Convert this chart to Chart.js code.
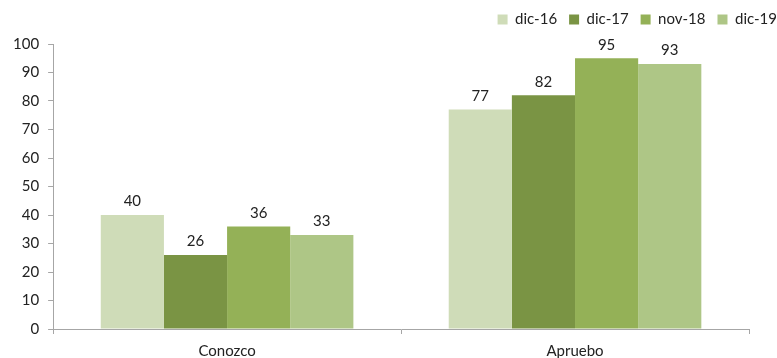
<!DOCTYPE html>
<html>
<head>
<meta charset="utf-8">
<script src="https://cdn.jsdelivr.net/npm/chart.js@4"></script>
<style>
  html, body { margin: 0; padding: 0; background: #fff; }
  #wrap { width: 777px; height: 358px; }
</style>
</head>
<body>
<div id="wrap"><canvas id="grafico" width="777" height="358"></canvas></div>
<script>
// datos
var categorias = ['Conozco', 'Apruebo'];
var series = ['dic-16', 'dic-17', 'nov-18', 'dic-19'];
var valoresDic16 = [40, 77];
var valoresDic17 = [26, 82];
var valoresNov18 = [36, 95];
var valoresDic19 = [33, 93];
var ticksY = [0, 10, 20, 30, 40, 50, 60, 70, 80, 90, 100];

var colores = ['#cfdcb8', '#7a9444', '#94b157', '#aec686'];
var valores = [valoresDic16, valoresDic17, valoresNov18, valoresDic19];

var fuente = "Lato, 'Open Sans', sans-serif";

// etiquetas encima de cada barra
var etiquetas = {
  id: 'etiquetas',
  afterDatasetsDraw: function(chart) {
    var ctx = chart.ctx;
    ctx.save();
    ctx.font = '15px ' + fuente;
    ctx.fillStyle = '#222';
    ctx.textAlign = 'center';
    ctx.textBaseline = 'bottom';
    chart.data.datasets.forEach(function(ds, i) {
      var meta = chart.getDatasetMeta(i);
      meta.data.forEach(function(bar, j) {
        ctx.fillText(ds.data[j], bar.x, bar.y - 6);
      });
    });
    ctx.restore();
  }
};

// mas espacio bajo la leyenda y leyenda corrida a la derecha
var ajusteLeyenda = {
  id: 'ajusteLeyenda',
  beforeInit: function(chart) {
    var fitOrig = chart.legend.fit;
    chart.legend.fit = function() {
      fitOrig.bind(chart.legend)();
      this.height += 7;
    };
  },
  afterLayout: function(chart) {
    chart.legend.left += 40;
    chart.legend.right += 40;
  }
};

var datasets = series.map(function(nombre, i) {
  return {
    label: nombre,
    data: valores[i],
    backgroundColor: colores[i],
    borderWidth: 0,
    categoryPercentage: 0.726,
    barPercentage: 1.0
  };
});

var ctx = document.getElementById('grafico').getContext('2d');
var grafico = new Chart(ctx, {
  type: 'bar',
  data: { labels: categorias, datasets: datasets },
  plugins: [etiquetas, ajusteLeyenda],
  options: {
    responsive: false,
    animation: false,
    layout: { padding: { left: 4, right: 28, top: 0, bottom: 0 } },
    plugins: {
      legend: {
        position: 'top',
        align: 'end',
        labels: {
          boxWidth: 10,
          boxHeight: 10,
          padding: 12,
          color: '#222',
          font: { family: fuente, size: 15 }
        }
      },
      tooltip: { enabled: false }
    },
    scales: {
      x: {
        afterFit: function(escala) { escala.height = 29; },
        grid: { display: true, drawOnChartArea: false, offset: true, tickLength: 5, color: '#a6a6a6' },
        border: { color: '#a6a6a6' },
        ticks: { color: '#222', font: { family: fuente, size: 15, lineHeight: 1 }, padding: 10 }
      },
      y: {
        min: 0,
        max: 100,
        afterBuildTicks: function(axis) {
          axis.ticks = ticksY.map(function(v) { return { value: v }; });
        },
        grid: { display: true, drawOnChartArea: false, tickLength: 5, color: '#a6a6a6' },
        border: { color: '#a6a6a6' },
        ticks: { color: '#222', font: { family: fuente, size: 15 }, padding: 9 }
      }
    }
  }
});
</script>
</body>
</html>
